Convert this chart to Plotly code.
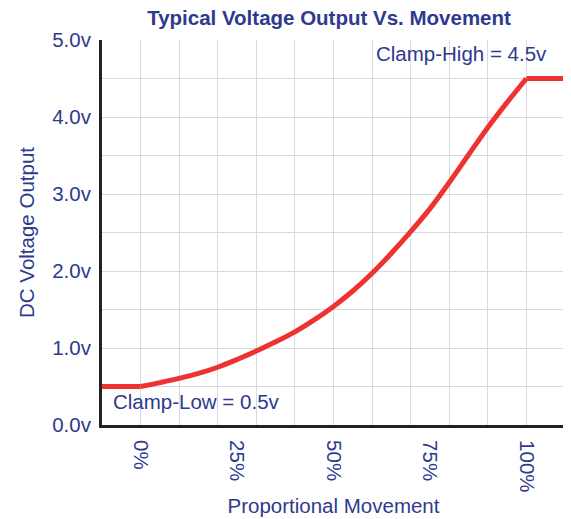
import plotly.graph_objects as go

movement_pct = [-10, 0, 5, 10, 15, 20, 25, 30, 35, 40, 45, 50, 55, 60, 65, 70, 75, 80, 85, 90, 95, 100, 110]
voltage_out = [0.5, 0.5, 0.55, 0.605, 0.67, 0.75, 0.85, 0.96, 1.08, 1.21, 1.365, 1.54, 1.74, 1.97, 2.23, 2.51, 2.81, 3.15, 3.51, 3.865, 4.19, 4.5, 4.5]

x_tick_vals = [0, 25, 50, 75, 100]
x_tick_text = ["0%", "25%", "50%", "75%", "100%"]
y_tick_vals = [0, 1, 2, 3, 4, 5]
y_tick_text = ["0.0v", "1.0v", "2.0v", "3.0v", "4.0v", "5.0v"]
x_grid_vals = [-10, 0, 10, 20, 30, 40, 50, 60, 70, 80, 90, 100, 110]
y_grid_vals = [0.5, 1.5, 2.5, 3.5, 4.5]

BLUE = "#2E3A8E"
RED = "#EE3232"
GRID = "#D8D8E0"
FONT = "Liberation Sans, Arial, sans-serif"

# page body has an 8px default margin; size the figure to compensate
W, H = 563, 511

fig = go.Figure()
# clamp-low flat segment, curved proportional range, clamp-high flat segment
segments = [(0, 2, "linear"), (1, len(movement_pct) - 1, "spline"), (len(movement_pct) - 2, len(movement_pct), "linear")]
for a, b, shape in segments:
    fig.add_trace(go.Scatter(
        x=movement_pct[a:b], y=voltage_out[a:b], mode="lines",
        line=dict(color=RED, width=5, shape=shape, smoothing=1.0 if shape == "spline" else None),
        hoverinfo="skip", showlegend=False,
    ))

fig.update_layout(
    width=W, height=H,
    margin=dict(l=94, r=6, t=32, b=94),
    paper_bgcolor="white", plot_bgcolor="white",
    font=dict(family=FONT, color=BLUE, size=20),
    title=dict(text="<b>Typical Voltage Output Vs. Movement</b>",
               x=321 / W, xref="container", xanchor="center",
               y=1 - 3 / H, yref="container", yanchor="top",
               pad=dict(t=0, b=0, l=0, r=0),
               font=dict(size=20.5, color=BLUE, family=FONT)),
    annotations=[
        dict(text="Clamp-High = 4.5v", x=110, y=5.0, xref="x", yref="y",
             xanchor="right", yanchor="top", showarrow=False, xshift=-16,
             font=dict(size=20.5, color=BLUE)),
        dict(text="Clamp-Low = 0.5v", x=-10, y=0.3, xref="x", yref="y",
             xanchor="left", yanchor="middle", showarrow=False, xshift=9,
             font=dict(size=20.5, color=BLUE)),
    ],
)

fig.update_xaxes(
    range=[-10, 110], tickmode="array", tickvals=x_tick_vals, ticktext=x_tick_text,
    tickangle=90, showgrid=False, zeroline=False,
    showline=True, linecolor="#222222", linewidth=3,
    ticks="", ticklabelstandoff=8, automargin=False,
    tickfont=dict(size=20.5, color=BLUE),
    minor=dict(tickmode="array", tickvals=x_grid_vals, showgrid=True,
               gridcolor=GRID, gridwidth=1, ticks=""),
    title=dict(text="Proportional Movement", font=dict(size=20.5, color=BLUE), standoff=8),
    fixedrange=True,
)
fig.update_yaxes(
    range=[0, 5], tickmode="array", tickvals=y_tick_vals, ticktext=y_tick_text,
    showgrid=True, gridcolor=GRID, gridwidth=1, zeroline=False,
    showline=True, linecolor="#222222", linewidth=3,
    ticks="", ticklabelstandoff=4, automargin=False,
    tickfont=dict(size=20.5, color=BLUE),
    minor=dict(tickmode="array", tickvals=y_grid_vals, showgrid=True,
               gridcolor=GRID, gridwidth=1, ticks=""),
    title=dict(text="DC Voltage Output", font=dict(size=20.5, color=BLUE), standoff=12),
    fixedrange=True,
)

fig.write_html("out.html", config={"displayModeBar": False})
